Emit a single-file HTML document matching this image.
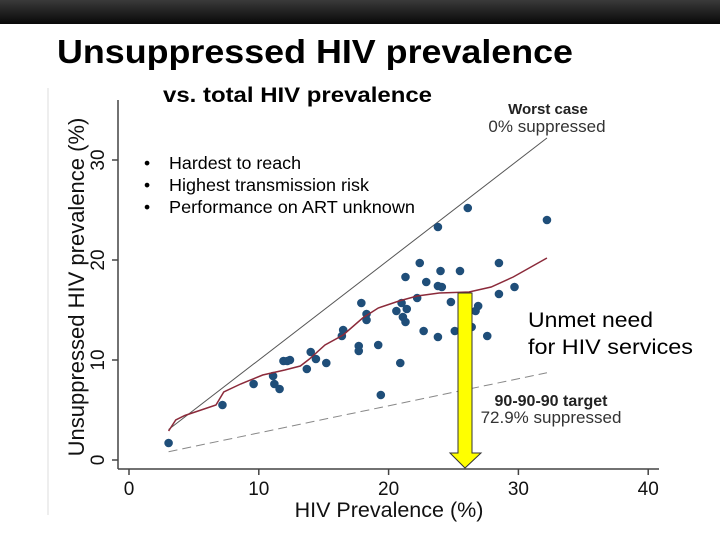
<!DOCTYPE html>
<html><head><meta charset="utf-8"><style>
body{margin:0;width:720px;height:540px;background:#fff;overflow:hidden;position:relative;font-family:"Liberation Sans",Arial,sans-serif}
#topbar{position:absolute;left:0;top:0;width:720px;height:24px;background:linear-gradient(#3a3a3a,#080808)}
</style></head><body>
<div id="topbar"></div>
<svg id="chart" width="720" height="540" style="position:absolute;left:0;top:0">
<line x1="48" y1="88" x2="48" y2="515" stroke="#ddd" stroke-width="1"/>
<text x="57" y="63" font-size="33" font-weight="bold" fill="#000" textLength="516" lengthAdjust="spacingAndGlyphs">Unsuppressed HIV prevalence</text>
<text x="163" y="102" font-size="21" font-weight="bold" fill="#000" textLength="269" lengthAdjust="spacingAndGlyphs">vs. total HIV prevalence</text>
<g id="axes"></g>
<g id="marks"></g>
<text x="548" y="114" font-size="15" font-weight="bold" fill="#222" text-anchor="middle">Worst case</text>
<text x="547" y="132" font-size="17" fill="#333" text-anchor="middle">0% suppressed</text>
<text x="551" y="406" font-size="16" font-weight="bold" fill="#222" text-anchor="middle">90-90-90 target</text>
<text x="551" y="423" font-size="17" fill="#333" text-anchor="middle">72.9% suppressed</text>
<text x="528" y="327" font-size="21" fill="#000" textLength="125" lengthAdjust="spacingAndGlyphs">Unmet need</text>
<text x="528" y="354" font-size="21" fill="#000" textLength="165" lengthAdjust="spacingAndGlyphs">for HIV services</text>
<g font-size="17.5" fill="#000">
<text x="144" y="169">•</text><text x="169" y="169" textLength="132" lengthAdjust="spacingAndGlyphs">Hardest to reach</text>
<text x="144" y="191">•</text><text x="169" y="191" textLength="200" lengthAdjust="spacingAndGlyphs">Highest transmission risk</text>
<text x="144" y="213">•</text><text x="169" y="213" textLength="246" lengthAdjust="spacingAndGlyphs">Performance on ART unknown</text>
</g>
<polygon points="458,293 472,293 472,453 481,453 465,468 450,453 458,453" fill="#ffff00" stroke="#333" stroke-width="1"/>
</svg>
<script>
const xPrev=[3.05,7.2,9.6,11.1,11.2,11.6,11.9,12.2,12.4,13.7,14.0,14.4,15.2,16.4,16.5,17.7,17.7,17.9,18.3,18.3,19.2,19.4,20.6,20.9,21.0,21.1,21.3,21.3,21.4,22.2,22.4,22.7,22.9,23.8,23.8,23.8,24.0,24.1,24.8,25.1,25.5,26.1,26.4,26.7,26.9,27.6,28.5,28.5,29.7,32.2];
const yUnsup=[1.7,5.5,7.6,8.4,7.6,7.1,9.9,9.9,10.0,9.1,10.8,10.1,9.7,12.4,13.0,11.4,10.9,15.7,14.6,14.0,11.5,6.5,14.9,9.7,15.7,14.3,13.8,18.3,15.1,16.2,19.7,12.9,17.8,23.3,17.4,12.3,18.9,17.3,15.8,12.9,18.9,25.2,13.3,14.9,15.4,12.4,19.7,16.6,17.3,24.0];
const smoothX=[3.05,3.6,4.3,6.7,7.3,8.6,10.3,12.0,13.2,13.9,15.1,16.5,18.0,19.2,20.8,22.2,23.9,26.2,27.9,29.6,32.2];
const smoothY=[2.9,4.0,4.45,5.5,6.8,7.6,8.5,9.0,9.4,10.1,11.5,12.5,14.2,15.2,15.9,16.4,16.7,16.8,17.3,18.3,20.2];
const xTicks=[0,10,20,30,40];
const yTicks=[0,10,20,30];
const lineRange=[3.05,32.2];
const targetFrac=0.271;
const sx=v=>129+v*12.98, sy=v=>460-v*10;
const NS="http://www.w3.org/2000/svg";
const ax=document.getElementById('axes'), mk=document.getElementById('marks');
function mkEl(t,a,p){const e=document.createElementNS(NS,t);for(const k in a)e.setAttribute(k,a[k]);p.appendChild(e);return e;}
let e=mkEl('line',{x1:118,y1:100,x2:118,y2:469,stroke:'#444','stroke-width':1.5},ax);


e=mkEl('line',{x1:118,y1:469,x2:659,y2:469,stroke:'#444','stroke-width':1.5},ax);


xTicks.forEach(t=>{
 let l=mkEl('line',{x1:sx(t),y1:469,x2:sx(t),y2:475,stroke:'#444','stroke-width':1.5},ax);
 
 
 let tx=mkEl('text',{x:sx(t),y:495,'font-size':19,'text-anchor':'middle',fill:'#111'},ax);tx.textContent=t;
 
 
});
yTicks.forEach(t=>{
 let l=mkEl('line',{x1:112,y1:sy(t),x2:118,y2:sy(t),stroke:'#444','stroke-width':1.5},ax);
 
 
 let tx=mkEl('text',{x:104,y:sy(t),'font-size':19,'text-anchor':'middle',fill:'#111',transform:`rotate(-90 104 ${sy(t)})`},ax);tx.textContent=t;
 
 
});
e=mkEl('text',{x:389,y:517,'font-size':21.5,'text-anchor':'middle',fill:'#111'},ax);e.textContent='HIV Prevalence (%)';


e=mkEl('text',{x:84,y:287,'font-size':22,'text-anchor':'middle',fill:'#111',transform:'rotate(-90 84 287)'},ax);e.textContent='Unsuppressed HIV prevalence (%)';


e=mkEl('line',{x1:sx(lineRange[0]),y1:sy(lineRange[0]),x2:sx(lineRange[1]),y2:sy(lineRange[1]),stroke:'#555','stroke-width':1},mk);


e=mkEl('line',{x1:sx(lineRange[0]),y1:sy(lineRange[0]*targetFrac),x2:sx(lineRange[1]),y2:sy(lineRange[1]*targetFrac),stroke:'#888','stroke-width':1,'stroke-dasharray':'9,5'},mk);


xPrev.forEach((v,i)=>{
 let c=mkEl('circle',{cx:sx(v),cy:sy(yUnsup[i]),r:4.3,fill:'#1f4e79'},mk);
 
 
});
e=mkEl('polyline',{points:smoothX.map((v,i)=>sx(v)+','+sy(smoothY[i])).join(' '),fill:'none',stroke:'#8b2a3a','stroke-width':1.5},mk);


</script>
</body></html>
